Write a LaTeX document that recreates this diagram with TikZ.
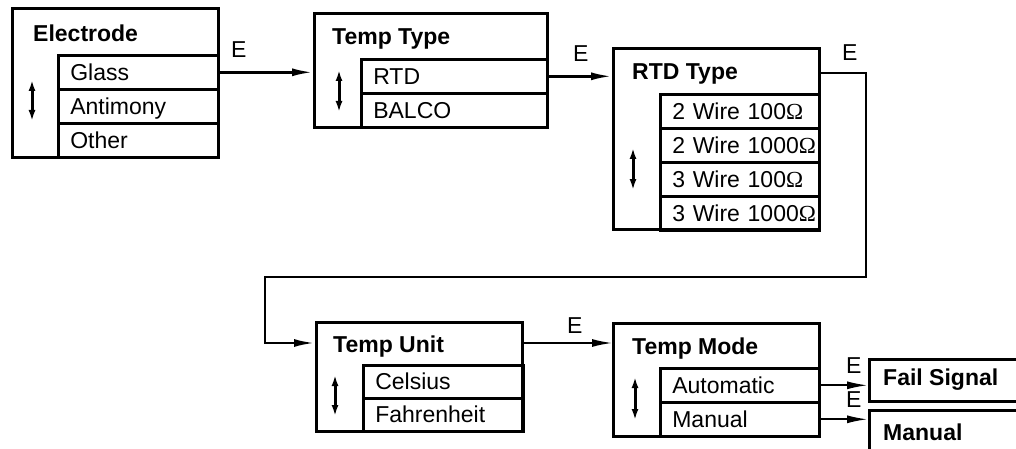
\documentclass[tikz,border=0pt]{standalone}
\usepackage{fontspec}
\setmainfont{Liberation Sans}
\newfontfamily\omegafont{Liberation Serif}
\usetikzlibrary{arrows.meta}
\newcommand{\myOhm}{{\omegafont Ω}}
\begin{document}
\begin{tikzpicture}[x=1pt,y=-1pt,
  box/.style={draw,line width=2.6pt,rectangle,anchor=north west,inner sep=0pt},
  row/.style 2 args={draw,line width=2.6pt,rectangle,anchor=north west,
    minimum height=34pt,minimum width=#1,text width=#2,align=left,
    inner xsep=12pt,inner ysep=0pt,text height=16.5pt,text depth=0.5pt,
    font=\fontsize{23}{26}\selectfont},
  title/.style={anchor=base west,inner sep=0pt,font=\fontsize{23}{26}\selectfont\bfseries},
  elabel/.style={anchor=base west,inner sep=0pt,font=\fontsize{23}{26}\selectfont},
  arr/.style={line width=2.6pt,-{Latex[length=21pt,width=8pt]}},
  thinarr/.style={line width=1.6pt,-{Latex[length=20pt,width=8pt]}},
  updown/.style={line width=3pt,{Latex[length=11pt,width=7pt]}-{Latex[length=11pt,width=7pt]}}
]
\useasboundingbox (0,0) rectangle (1016,449);
\clip (0,0) rectangle (1016,449);

% Electrode
\node[box,minimum width=206pt,minimum height=149pt] (el) at (11,7) {};
\node[title] (elt) at (33,42) {Electrode};
\node[row={160pt}{136pt}] (el1) at (57,54) {Glass};
\node[row={160pt}{136pt}] (el2) at (57,88) {Antimony};
\node[row={160pt}{136pt}] (el3) at (57,122) {Other};
\draw[updown] (32,80) -- (32,121);

% Temp Type
\node[box,minimum width=233pt,minimum height=114pt] (tt) at (313,12) {};
\node[title] (ttt) at (332,45) {Temp Type};
\node[row={186pt}{162pt}] (tt1) at (360,58) {RTD};
\node[row={186pt}{162pt}] (tt2) at (360,92) {BALCO};
\draw[updown] (339,70) -- (339,112);

% RTD Type
\node[box,minimum width=206pt,minimum height=181pt] (rt) at (612,47) {};
\node[title] (rtt) at (632,80) {RTD Type};
\node[row={159pt}{135pt}] (rt1) at (659,93) {\mbox{2 Wire 100\myOhm}};
\node[row={159pt}{135pt}] (rt2) at (659,127) {\mbox{2 Wire 1000\myOhm}};
\node[row={159pt}{135pt}] (rt3) at (659,161) {\mbox{3 Wire 100\myOhm}};
\node[row={159pt}{135pt}] (rt4) at (659,195) {\mbox{3 Wire 1000\myOhm}};
\draw[updown] (633,148) -- (633,190);

% Temp Unit
\node[box,minimum width=206pt,minimum height=109pt] (tu) at (315,321) {};
\node[title] (tut) at (333,352) {Temp Unit};
\node[row={160pt}{136pt},minimum height=33pt] (tu1) at (362,364) {Celsius};
\node[row={160pt}{136pt},minimum height=33pt] (tu2) at (362,397) {Fahrenheit};
\draw[updown] (335,375) -- (335,416);

% Temp Mode
\node[box,minimum width=206pt,minimum height=113pt] (tm) at (612,322) {};
\node[title] (tmt) at (632,354) {Temp Mode};
\node[row={159pt}{135pt}] (tm1) at (659,367) {Automatic};
\node[row={159pt}{135pt}] (tm2) at (659,401) {Manual};
\draw[updown] (635,377) -- (635,420);

% Fail Signal / Manual
\node[box,minimum width=200pt,minimum height=42pt] (fs) at (868,358) {};
\node[title] (fst) at (883,385) {Fail Signal};
\node[box,minimum width=200pt,minimum height=70pt] (mn) at (868,409) {};
\node[title] (mnt) at (883,440) {Manual};

% connectors
\draw[arr] (el1.east) -- (el1.east -| tt.west);
\node[elabel] (e1) at (231,58) {E};

\draw[arr] (tt1.east) -- (tt1.east -| rt.west);
\node[elabel] (e2) at (573,62) {E};

\coordinate (rtout) at ([yshift=-26pt]rt.north east);
\coordinate (c1) at (866,277);
\coordinate (c2) at (265,277);
\coordinate (tuin) at ([yshift=-22pt]tu.north west);
\draw[arr] (rtout) -| (c1) -- (c2) |- (tuin);
\node[elabel] (e3) at (842,61) {E};

\coordinate (tuout) at ([yshift=-22pt]tu.north east);
\draw[thinarr] (tuout) -- (tuout -| tm.west);
\node[elabel] (e4) at (567,333) {E};

\draw[arr,line width=2pt] (tm1.east) -- (tm1.east -| fs.west);
\node[elabel] (e5) at (846,373) {E};
\draw[arr,line width=2pt] (tm2.east) -- (tm2.east -| mn.west);
\node[elabel] (e6) at (846,407) {E};
\end{tikzpicture}
\end{document}
